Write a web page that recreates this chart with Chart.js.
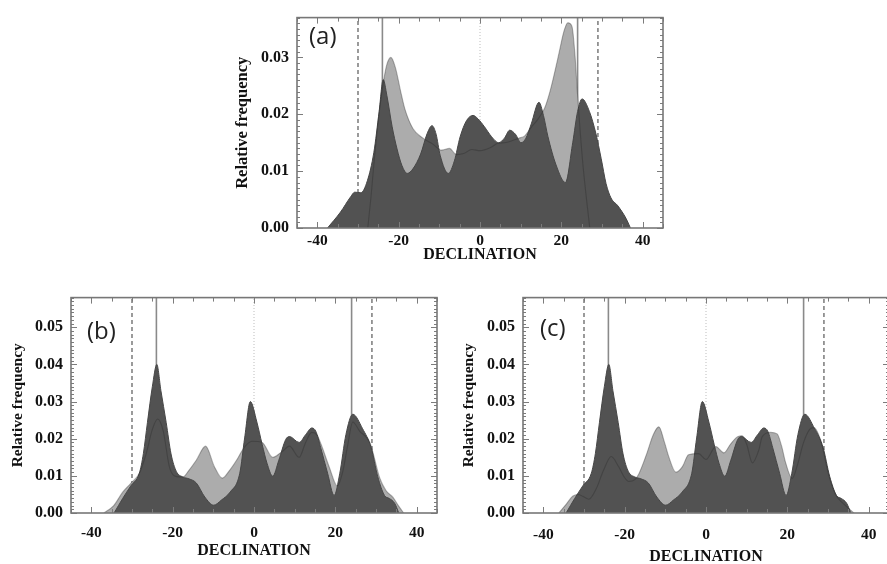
<!DOCTYPE html>
<html>
<head>
<meta charset="utf-8">
<script src="https://cdn.jsdelivr.net/npm/chart.js@4.4.1/dist/chart.umd.min.js"></script>
<style>
  html, body { margin: 0; padding: 0; width: 887px; height: 564px; overflow: hidden; background: #fff; }
  canvas { position: absolute; }
</style>
</head>
<body>
<canvas id="chartA" width="455" height="266" style="left:225px;top:0px"></canvas>
<canvas id="chartB" width="450" height="284" style="left:0px;top:280px"></canvas>
<canvas id="chartC" width="450" height="286" style="left:450px;top:280px"></canvas>
<script>
// ---- data ----
const declTicks = [-40, -20, 0, 20, 40];
const freqTicksA = [0, 0.01, 0.02, 0.03];
const freqTicksBC = [0, 0.01, 0.02, 0.03, 0.04, 0.05];

const tropics = [-24, 24];        // solid lines
const standstills = [-30, 29];    // dashed lines
const equator = [0];              // dotted line

// panel (a)
const aDarkX = [-37.5, -34.3, -31.8, -30.8, -29.3, -27.7, -26.1, -24.8, -23.8, -22.9, -21.6, -20.4, -19.2, -17.9, -16.5, -14.6, -13, -11.8, -10.8, -9.8, -7.8, -6.3, -4.9, -3.3, -1.7, -0.5, 1.1, 2.8, 4.6, 6, 7.3, 8.7, 10.1, 11.3, 12.6, 14.5, 15.6, 16.7, 18.7, 21, 22.8, 24, 25.1, 26.9, 28.5, 29.8, 31, 32.2, 33.9, 35.9, 37];
const aDarkY = [0, 0.0028, 0.0055, 0.0063, 0.0062, 0.0083, 0.0133, 0.0205, 0.0261, 0.0233, 0.0178, 0.0139, 0.011, 0.0096, 0.0104, 0.013, 0.0166, 0.018, 0.0165, 0.0128, 0.0096, 0.0118, 0.016, 0.0189, 0.0198, 0.0192, 0.0178, 0.0161, 0.015, 0.0158, 0.0172, 0.0165, 0.015, 0.0158, 0.0183, 0.0221, 0.0198, 0.0161, 0.0111, 0.008, 0.015, 0.0205, 0.0227, 0.0205, 0.0166, 0.0122, 0.0078, 0.0053, 0.0039, 0.0017, 0];
const aLightX = [-27.6, -26.8, -26, -25, -24, -23, -21.9, -20.8, -19.5, -18.5, -16.5, -14, -11.5, -9.5, -7.5, -5.8, -4, -2, 0, 2.5, 4.4, 6, 7.7, 9.5, 11, 12.6, 14.3, 15.9, 17.2, 18.3, 19.5, 20.6, 21.6, 22.6, 23.3, 24, 25.2, 26.2, 27];
const aLightY = [0, 0.0055, 0.012, 0.019, 0.0245, 0.0285, 0.030, 0.0282, 0.024, 0.021, 0.0175, 0.0158, 0.0147, 0.0137, 0.014, 0.0129, 0.0131, 0.0138, 0.0136, 0.0141, 0.0149, 0.015, 0.0153, 0.0158, 0.0162, 0.0177, 0.0192, 0.0211, 0.024, 0.0272, 0.031, 0.0345, 0.0361, 0.0355, 0.031, 0.0233, 0.012, 0.005, 0];

// panels (b) and (c) share the dark curve
const bcDarkX = [-34.4, -32.3, -30.3, -28.2, -27.2, -26.2, -25, -23.9, -22.9, -21.6, -20.4, -19.1, -17.5, -16, -14.2, -12.1, -9.9, -8, -5.9, -3.5, -2.3, -0.9, 0.7, 2, 3.2, 4.6, 6.1, 7.8, 8.7, 11.1, 12.7, 14.2, 15.2, 16.4, 18.1, 19.7, 21.1, 22.6, 24.3, 26.7, 28.8, 30.4, 32.1, 33.3, 34.6, 35.6];
const bcDarkY = [0, 0.0039, 0.0073, 0.0107, 0.016, 0.0244, 0.034, 0.040, 0.033, 0.0244, 0.0159, 0.0112, 0.0097, 0.0092, 0.0081, 0.0043, 0.0021, 0.0035, 0.0056, 0.0107, 0.0202, 0.030, 0.0245, 0.0185, 0.0134, 0.0099, 0.0142, 0.0198, 0.0206, 0.019, 0.0211, 0.0229, 0.022, 0.0176, 0.0107, 0.0047, 0.0107, 0.0211, 0.0266, 0.0227, 0.0176, 0.0099, 0.0047, 0.0039, 0.0026, 0];

const bLightX = [-36.9, -34.5, -32.3, -30.3, -28.2, -26.5, -25, -23.7, -22.3, -20.8, -19, -17.5, -16, -14.2, -11.9, -9.7, -7.8, -6, -4.3, -2.5, -0.5, 2, 4.6, 7, 8.7, 11.1, 12.7, 14.2, 15.5, 16.5, 18.5, 20.5, 21.8, 23, 24.3, 26, 28.5, 30.9, 32.5, 34.2, 35.5, 36.8];
const bLightY = [0, 0.002, 0.0056, 0.008, 0.0107, 0.016, 0.0225, 0.0253, 0.022, 0.0124, 0.0098, 0.0097, 0.0115, 0.0142, 0.018, 0.0124, 0.0094, 0.0115, 0.0142, 0.0175, 0.0193, 0.019, 0.015, 0.0166, 0.018, 0.015, 0.019, 0.0217, 0.021, 0.0185, 0.0124, 0.0073, 0.011, 0.018, 0.0245, 0.022, 0.019, 0.0095, 0.006, 0.0042, 0.002, 0];

const cLightX = [-36.2, -34.5, -32.8, -31.5, -30.3, -28.8, -27, -25.2, -23.3, -21.5, -20, -19, -17.5, -16.5, -14.5, -13, -11.6, -10.2, -9.2, -7.4, -5.8, -4.3, -1.8, 0, 2.4, 4.4, 6, 7.7, 8.9, 10, 11.4, 13, 13.8, 15.9, 17.5, 18.6, 19.6, 21.2, 22.5, 24, 25.5, 26.5, 28.2, 30.2, 31.9, 33.9, 36.4];
const cLightY = [0, 0.0022, 0.0045, 0.005, 0.0045, 0.0037, 0.0065, 0.0115, 0.0152, 0.0125, 0.0095, 0.0085, 0.009, 0.0106, 0.0162, 0.021, 0.0232, 0.019, 0.0153, 0.011, 0.0125, 0.0157, 0.016, 0.0144, 0.0179, 0.0162, 0.0185, 0.0205, 0.0208, 0.0185, 0.0135, 0.017, 0.0205, 0.0217, 0.0213, 0.018, 0.0135, 0.0093, 0.013, 0.019, 0.0225, 0.023, 0.0196, 0.0102, 0.0049, 0.0024, 0];

// ---- styling ----
const SERIF = "'Liberation Serif', 'Times New Roman', serif";
const DARK = 'rgb(82,82,82)';
const LIGHT = 'rgb(172,172,172)';

Chart.defaults.font.family = SERIF;
Chart.defaults.color = '#111';

function pts(xs, ys) {
  return xs.map((x, i) => ({ x: x, y: ys[i] }));
}

function vline(v, yMax, style) {
  return Object.assign({
    data: [{ x: v, y: 0 }, { x: v, y: yMax }],
    fill: false, pointRadius: 0, order: 4
  }, style);
}

// box with inward ticks on all four sides, plus the panel letter
const framePlugin = {
  id: 'frame',
  afterDatasetsDraw(chart) {
    const { ctx, chartArea: a, scales: { x, y } } = chart;
    ctx.save();
    ctx.strokeStyle = '#7c7c7c';
    ctx.lineWidth = 1;
    ctx.beginPath();
    for (let v = Math.ceil(x.min / 5) * 5; v <= x.max; v += 5) {
      const px = Math.round(x.getPixelForValue(v)) + 0.5;
      const len = v % 20 === 0 ? 6 : 4;
      ctx.moveTo(px, a.top); ctx.lineTo(px, a.top + len);
      ctx.moveTo(px, a.bottom); ctx.lineTo(px, a.bottom - len);
    }
    for (let k = 0; k * 0.001 <= y.max + 1e-9; k++) {
      const py = Math.round(y.getPixelForValue(k * 0.001)) + 0.5;
      const len = k % 10 === 0 ? 6 : 3;
      ctx.moveTo(a.left, py); ctx.lineTo(a.left + len, py);
      ctx.moveTo(a.right, py); ctx.lineTo(a.right - len, py);
    }
    ctx.stroke();
    ctx.lineWidth = 1.6;
    ctx.strokeStyle = '#777';
    ctx.strokeRect(a.left, a.top, a.right - a.left, a.bottom - a.top);
    ctx.restore();
  },
  afterDraw(chart, args, opts) {
    if (!opts.text) return;
    const { ctx, chartArea: a } = chart;
    ctx.save();
    ctx.font = "24px 'Open Sans', 'Noto Sans', sans-serif";
    ctx.fillStyle = '#222';
    ctx.textBaseline = 'middle';
    ctx.fillText(opts.text, a.left + opts.dx, a.top + opts.dy);
    ctx.restore();
  }
};

function makePanel(id, p) {
  const datasets = [
    { data: pts(p.lightX, p.lightY), fill: 'origin', backgroundColor: LIGHT, borderWidth: 0,
      pointRadius: 0, cubicInterpolationMode: 'monotone', order: 3 },
    { data: pts(p.darkX, p.darkY), fill: 'origin', backgroundColor: DARK, borderColor: '#474747', borderWidth: 1,
      pointRadius: 0, cubicInterpolationMode: 'monotone', order: 2 },
    // outline of the light curve, seen through the dark one
    { data: pts(p.lightX, p.lightY), fill: false, borderColor: 'rgba(40,40,40,0.35)', borderWidth: 1.1,
      pointRadius: 0, cubicInterpolationMode: 'monotone', order: 1 }
  ];
  tropics.forEach(v => datasets.push(vline(v, p.yMax, { borderColor: '#8a8a8a', borderWidth: 1.6 })));
  standstills.forEach(v => datasets.push(vline(v, p.yMax, { borderColor: '#707070', borderWidth: 1.4, borderDash: [4, 3] })));
  equator.forEach(v => datasets.push(vline(v, p.yMax, { borderColor: '#bdbdbd', borderWidth: 1, borderDash: [1, 2] })));

  return new Chart(document.getElementById(id), {
    type: 'line',
    data: { datasets: datasets },
    options: {
      responsive: false,
      animation: false,
      layout: { padding: { top: p.padTop, right: p.padRight, left: 0, bottom: 0 } },
      plugins: {
        legend: { display: false },
        tooltip: { enabled: false },
        frame: p.panelLabel
      },
      scales: {
        x: {
          type: 'linear', min: -45, max: 45,
          grid: { display: false, drawTicks: false },
          border: { display: false },
          afterBuildTicks: s => { s.ticks = declTicks.map(v => ({ value: v })); },
          afterFit: s => { s.height = p.xHeight; },
          ticks: { padding: p.xTickPad, font: { size: 15.5, weight: 'bold' }, color: '#111', maxRotation: 0 },
          title: { display: true, text: 'DECLINATION', color: '#111',
                   font: { size: 16, weight: 'bold' }, padding: { top: 0, bottom: p.xTitlePad } }
        },
        y: {
          min: 0, max: p.yMax,
          grid: { display: false, drawTicks: false },
          border: { display: false },
          afterBuildTicks: s => { s.ticks = p.yTicks.map(v => ({ value: v })); },
          afterFit: s => { s.width = p.yWidth; },
          ticks: { padding: 8, font: { size: 16, weight: 'bold' }, color: '#111', callback: v => v.toFixed(2) },
          title: { display: true, text: 'Relative frequency', color: '#111',
                   font: { size: p.yTitleSize, weight: 'bold' }, padding: { top: p.yTitlePad, bottom: 0 } }
        }
      }
    },
    plugins: [framePlugin]
  });
}

makePanel('chartA', {
  lightX: aLightX, lightY: aLightY, darkX: aDarkX, darkY: aDarkY,
  yMax: 0.037, yTicks: freqTicksA,
  yWidth: 72, xHeight: 38, padTop: 7, padRight: 17,
  xTickPad: 4, xTitlePad: 2, yTitleSize: 16.5, yTitlePad: 8,
  panelLabel: { text: '(a)', dx: 12, dy: 20 }
});

makePanel('chartB', {
  lightX: bLightX, lightY: bLightY, darkX: bcDarkX, darkY: bcDarkY,
  yMax: 0.058, yTicks: freqTicksBC,
  yWidth: 71, xHeight: 51, padTop: 7, padRight: 13,
  xTickPad: 11, xTitlePad: 4, yTitleSize: 15.5, yTitlePad: 9,
  panelLabel: { text: '(b)', dx: 16, dy: 35 }
});

makePanel('chartC', {
  lightX: cLightX, lightY: cLightY, darkX: bcDarkX, darkY: bcDarkY,
  yMax: 0.058, yTicks: freqTicksBC,
  yWidth: 73, xHeight: 53, padTop: 9, padRight: 11,
  xTickPad: 13, xTitlePad: 0, yTitleSize: 15.5, yTitlePad: 10,
  panelLabel: { text: '(c)', dx: 17, dy: 32 }
});
</script>
</body>
</html>
